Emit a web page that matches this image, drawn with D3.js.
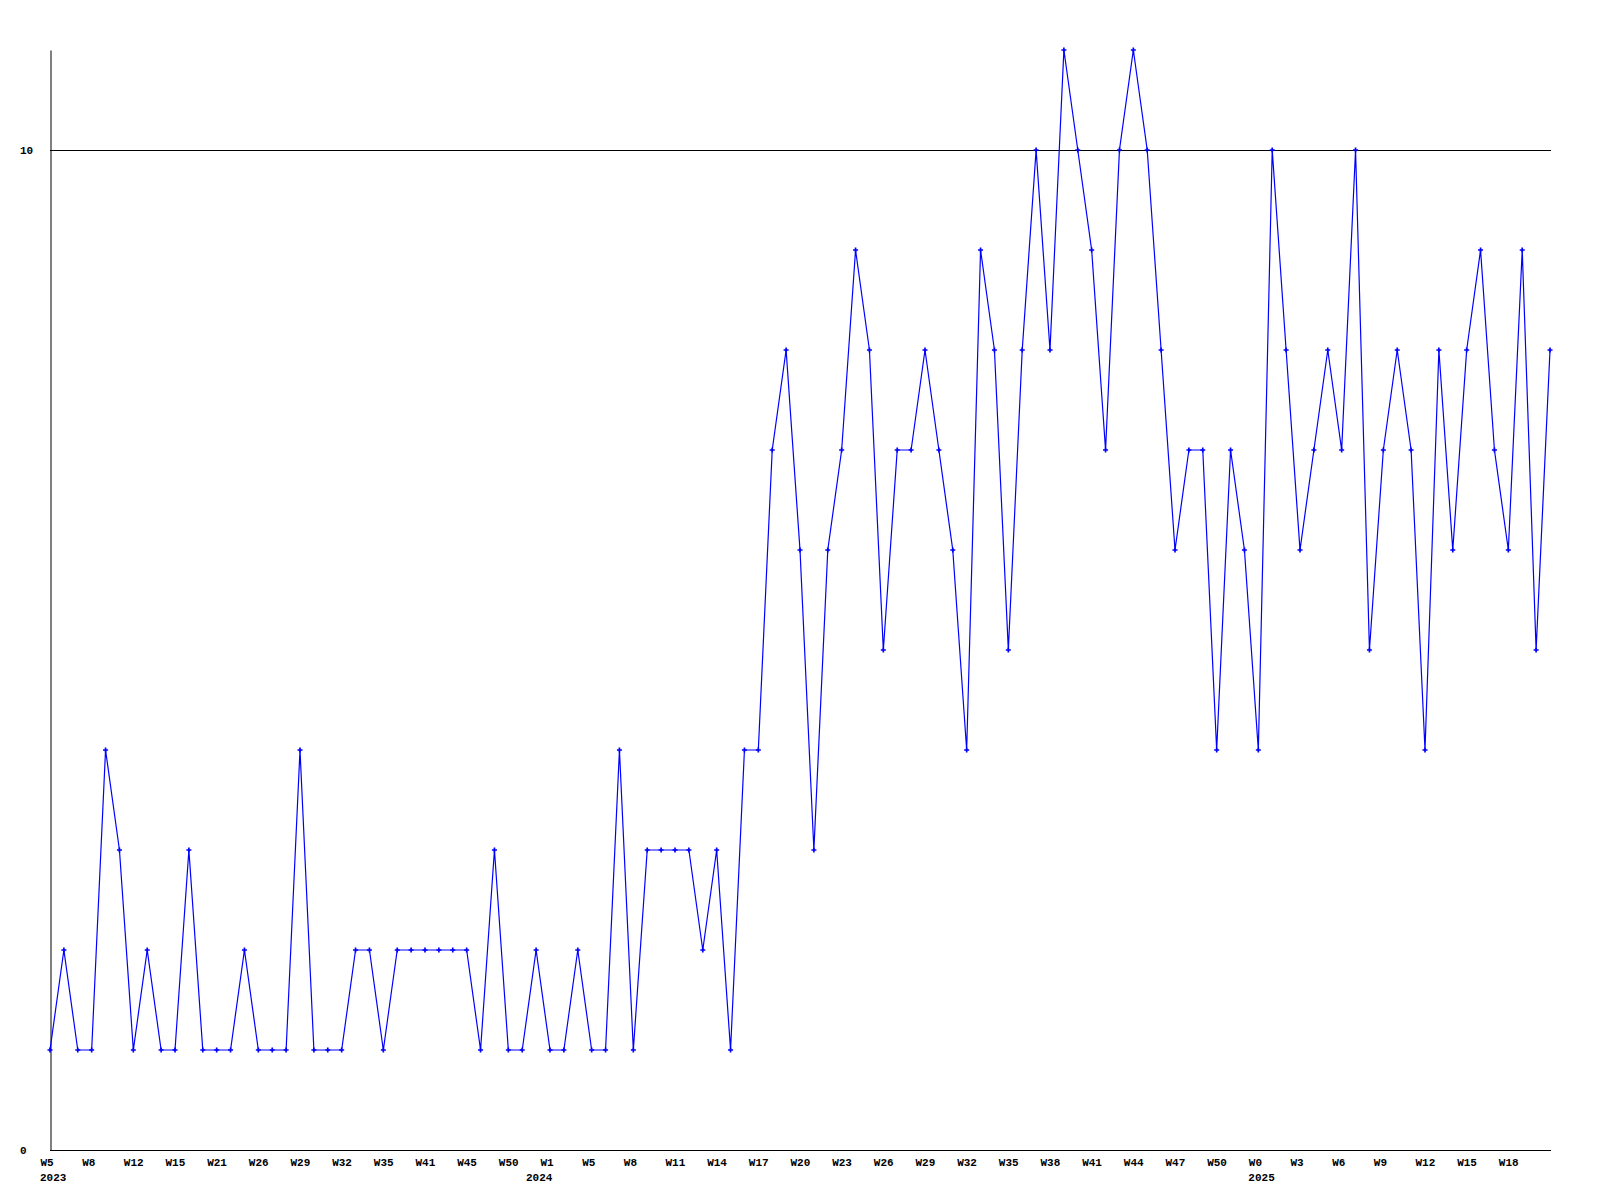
<!DOCTYPE html>
<html>
<head>
<meta charset="utf-8">
<script src="https://cdn.jsdelivr.net/npm/d3@7"></script>
<style>
  html, body { margin: 0; padding: 0; background: #fff; }
  svg { display: block; }
  text { font-family: "Liberation Mono", "DejaVu Sans Mono", monospace; font-weight: bold; font-size: 11px; fill: #000; }
</style>
</head>
<body>
<svg id="chart" width="1600" height="1200"></svg>
<script>
// ---- data ----
const values = [
  1, 2, 1, 1, 4, 3, 1, 2, 1, 1,
  3, 1, 1, 1, 2, 1, 1, 1, 4, 1,
  1, 1, 2, 2, 1, 2, 2, 2, 2, 2,
  2, 1, 3, 1, 1, 2, 1, 1, 2, 1,
  1, 4, 1, 3, 3, 3, 3, 2, 3, 1,
  4, 4, 7, 8, 6, 3, 6, 7, 9, 8,
  5, 7, 7, 8, 7, 6, 4, 9, 8, 5,
  8, 10, 8, 11, 10, 9, 7, 10, 11, 10,
  8, 6, 7, 7, 4, 7, 6, 4, 10, 8,
  6, 7, 8, 7, 10, 5, 7, 8, 7, 4,
  8, 6, 8, 9, 7, 6, 9, 5, 8
];
// week labels shown every third point
const tickLabels = [
  "W5", "W8", "W12", "W15", "W21", "W26", "W29", "W32", "W35", "W41", "W45", "W50",
  "W1", "W5", "W8", "W11", "W14", "W17", "W20", "W23", "W26", "W29", "W32", "W35",
  "W38", "W41", "W44", "W47", "W50",
  "W0", "W3", "W6", "W9", "W12", "W15", "W18"
];
const tickStep = 3;
const yearLabels = ["2023", "2024", "2025"];
const yearTickIndex = [0, 12, 29];   // which tick label each year sits under
const yTickValues = [0, 10];
const yMax = 11;

(function () {
  // ---- layout ----
  const mLeft = 50, mRight = 1550, mTop = 50, mBottom = 1150;
  const svg = d3.select("#chart");

  const x = d3.scaleLinear().domain([0, values.length - 1]).range([mLeft, mRight]);
  const y = d3.scaleLinear().domain([0, yMax]).range([mBottom, mTop]);

  const tickIdx = tickLabels.map((_, i) => i * tickStep);

  // reference line at 10
  svg.append("line")
    .attr("x1", mLeft).attr("x2", mRight + 1)
    .attr("y1", Math.round(y(10)) + 0.5).attr("y2", Math.round(y(10)) + 0.5)
    .attr("stroke", "#000").attr("stroke-width", 1);

  // y axis
  const yAxis = svg.append("g")
    .attr("transform", `translate(${mLeft + 0.5},0)`)
    .call(d3.axisLeft(y).tickValues(yTickValues).tickSize(0).tickSizeOuter(0).tickFormat(d3.format("d")));
  yAxis.attr("font-family", null).attr("font-size", null);
  yAxis.select(".domain").attr("stroke", "#000").attr("stroke-width", 1);
  yAxis.selectAll("text")
    .attr("text-anchor", "start")
    .attr("x", -30.5)
    .attr("dy", 3.5);

  // x axis
  const xAxis = svg.append("g")
    .attr("transform", `translate(0,${mBottom + 0.5})`)
    .call(d3.axisBottom(x).tickValues(tickIdx).tickSize(0).tickSizeOuter(0)
      .tickFormat((d, i) => tickLabels[i]));
  xAxis.attr("font-family", null).attr("font-size", null);
  xAxis.select(".domain").attr("stroke", "#000").attr("stroke-width", 1)
    .attr("d", `M${mLeft},0H${mRight + 1}`);
  xAxis.selectAll("text")
    .attr("text-anchor", "start")
    .attr("x", -10)
    .attr("y", 0)
    .attr("dy", 15.5);

  // year labels
  const yearOffsets = [-10, -24, -10];
  svg.append("g").selectAll("text")
    .data(yearLabels)
    .join("text")
    .attr("x", (d, i) => x(tickIdx[yearTickIndex[i]]) + yearOffsets[i])
    .attr("y", mBottom + 31)
    .text(d => d);

  // series line
  svg.append("path")
    .datum(values)
    .attr("fill", "none")
    .attr("stroke", "#0000ff")
    .attr("stroke-width", 1.2)
    .attr("d", d3.line().x((d, i) => x(i)).y(d => y(d)));

  // markers
  svg.append("g").selectAll("path")
    .data(values)
    .join("path")
    .attr("transform", (d, i) => `translate(${x(i)},${y(d)})`)
    .attr("d", d3.symbol(d3.symbolCross, 14))
    .attr("fill", "#0000ff");
})();
</script>
</body>
</html>
